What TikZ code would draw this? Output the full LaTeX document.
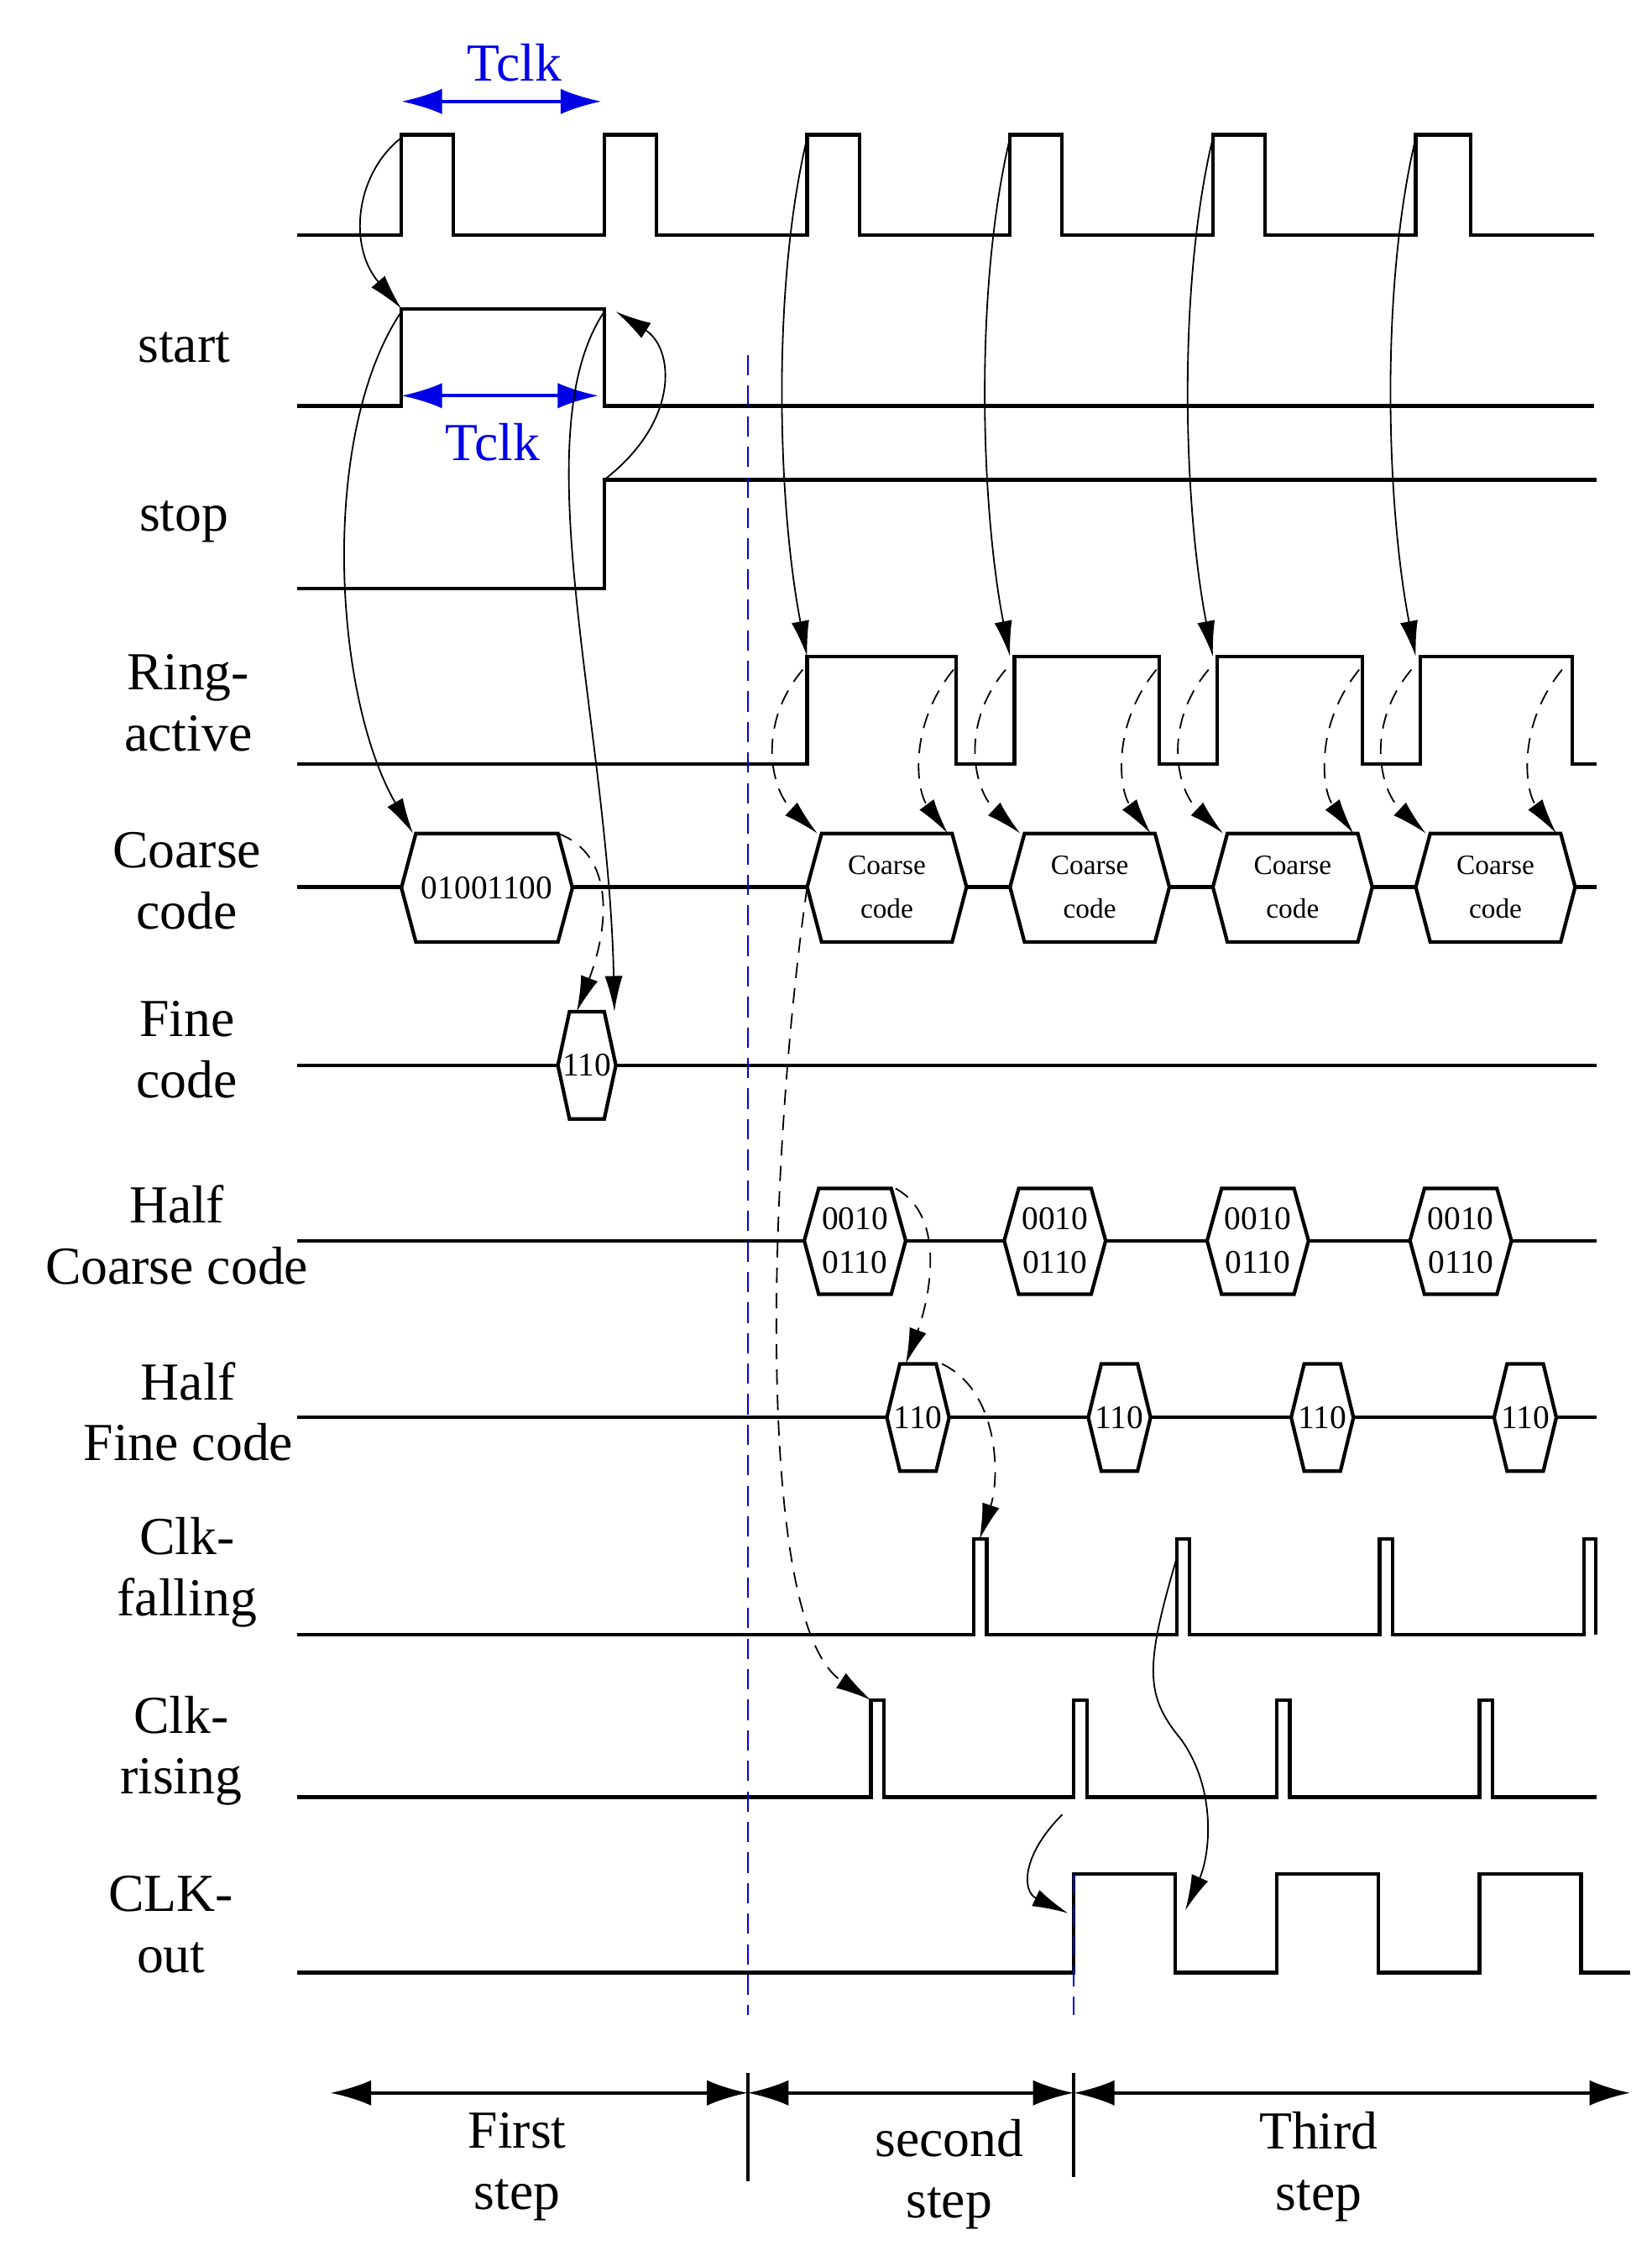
\documentclass[tikz,border=0pt]{standalone}
\usepackage{fontspec}
\setmainfont{Liberation Serif}
\usetikzlibrary{arrows.meta}
\definecolor{tblue}{RGB}{0,0,230}
\newcommand\myhex[6]{% x1 x2 ytop ybot inset text
  \draw[sig,fill=white] (#1,{(#3+#4)/2}) -- (#1+#5,#3) -- (#2-#5,#3) -- (#2,{(#3+#4)/2}) -- (#2-#5,#4) -- (#1+#5,#4) -- cycle;
  \node[hx] at ({(#1+#2)/2},{(#3+#4)/2}) {#6};}
\begin{document}
\begin{tikzpicture}[x=0.02cm,y=-0.02cm,
  sig/.style={line width=1.4pt},
  con/.style={line width=0.6pt,-{Latex[length=14pt,width=7pt]}},
  dcon/.style={con,dash pattern=on 6pt off 4pt},
  lab/.style={font=\fontsize{21}{24}\selectfont,align=center},
  hx/.style={font=\fontsize{13}{15}\selectfont,align=center,inner sep=0pt},
  hxs/.style={font=\fontsize{11}{15}\selectfont,align=center,inner sep=0pt},
  big/.style={line width=1.2pt,{Latex[length=16pt,width=10pt]}-{Latex[length=16pt,width=10pt]}},
  bl/.style={line width=1.2pt,tblue,{Latex[length=16pt,width=10pt]}-{Latex[length=16pt,width=10pt]}}]
\useasboundingbox (0,0) rectangle (1140,1560);
% clock
\draw[sig] (205,162) -- (277,162) -- (277,93) -- (313,93) -- (313,162) -- (417,162) -- (417,93) -- (453,93) -- (453,162)
 -- (557,162) -- (557,93) -- (593,93) -- (593,162) -- (697,162) -- (697,93) -- (733,93) -- (733,162)
 -- (837,162) -- (837,93) -- (873,93) -- (873,162) -- (977,162) -- (977,93) -- (1015,93) -- (1015,162) -- (1100,162);
\draw[bl] (277,70) -- (415,70);
\node[lab,tblue] at (355,43) {Tclk};
% start
\node[lab] at (127,240) {start};
\draw[sig] (205,280) -- (277,280) -- (277,213) -- (417,213) -- (417,280) -- (1100,280);
\draw[bl] (277,273) -- (413,273);
\node[lab,tblue] at (340,305) {Tclk};
% stop
\node[lab] at (127,360) {stop};
\draw[sig] (205,406) -- (417,406) -- (417,331) -- (1102,331);
% ring
\node[lab] at (130,485) {Ring-\\active};
\draw[sig] (205,527) -- (557,527) -- (557,453) -- (660,453) -- (660,527) -- (700,527) -- (700,453) -- (800,453) -- (800,527)
 -- (840,527) -- (840,453) -- (940,453) -- (940,527) -- (980,527) -- (980,453) -- (1085,453) -- (1085,527) -- (1102,527);
% coarse
\node[lab] at (129,608) {Coarse\\code};
\draw[sig] (205,612) -- (1102,612);
\myhex{277}{395}{575}{650}{10}{01001100}
\foreach \a in {557,697,837,977}{
  \draw[sig,fill=white] (\a,612) -- (\a+10,575) -- (\a+100,575) -- (\a+110,612) -- (\a+100,650) -- (\a+10,650) -- cycle;
  \node[hxs] at (\a+55,612) {Coarse\\[2pt]code};}
% fine
\node[lab] at (129,724) {Fine\\code};
\draw[sig] (205,735) -- (1102,735);
\myhex{385}{425}{698}{772}{8}{110}
% half coarse
\node[lab] at (122,852) {Half\\Coarse code};
\draw[sig] (205,856) -- (1102,856);
\foreach \a in {555,693,833,973}{
  \draw[sig,fill=white] (\a,856) -- (\a+10,820) -- (\a+60,820) -- (\a+70,856) -- (\a+60,893) -- (\a+10,893) -- cycle;
  \node[hx] at (\a+35,856) {0010\\[2pt]0110};}
% half fine
\node[lab] at (130,974) {Half\\Fine code};
\draw[sig] (205,978) -- (1102,978);
\foreach \a in {612,751,891,1031}{
  \draw[sig,fill=white] (\a,978) -- (\a+9,941) -- (\a+34,941) -- (\a+43,978) -- (\a+34,1015) -- (\a+9,1015) -- cycle;
  \node[hx] at (\a+21.5,978) {110};}
% clk falling
\node[lab] at (129,1085) {Clk-\\falling};
\draw[sig] (205,1128) -- (672,1128) -- (672,1062) -- (681,1062) -- (681,1128) -- (812,1128) -- (812,1062) -- (821,1062) -- (821,1128)
 -- (952,1128) -- (952,1062) -- (961,1062) -- (961,1128) -- (1093,1128) -- (1093,1062) -- (1101,1062) -- (1101,1128);
% clk rising
\node[lab] at (125,1208) {Clk-\\rising};
\draw[sig] (205,1240) -- (601,1240) -- (601,1173) -- (610,1173) -- (610,1240) -- (741,1240) -- (741,1173) -- (750,1173) -- (750,1240)
 -- (881,1240) -- (881,1173) -- (890,1173) -- (890,1240) -- (1021,1240) -- (1021,1173) -- (1030,1173) -- (1030,1240) -- (1102,1240);
% clk out
\node[lab] at (118,1328) {CLK-\\out};
\draw[sig] (205,1361) -- (741,1361) -- (741,1293) -- (811,1293) -- (811,1361) -- (881,1361) -- (881,1293) -- (951,1293) -- (951,1361)
 -- (1021,1361) -- (1021,1293) -- (1091,1293) -- (1091,1361) -- (1125,1361);
% dashed verticals
\draw[tblue,line width=0.6pt,dash pattern=on 8pt off 4pt] (516,245) -- (516,1390);
\draw[tblue,line width=0.6pt,dash pattern=on 8pt off 4pt] (741,1293) -- (741,1390);
% steps
\draw[big] (228,1444) -- (516,1444);
\draw[big] (516,1444) -- (741,1444);
\draw[big] (741,1444) -- (1125,1444);
\draw[line width=1.2pt] (516,1430) -- (516,1505);
\draw[line width=1.2pt] (741,1430) -- (741,1502);
\node[lab] at (357,1495) {First\\step};
\node[lab] at (655,1500) {second\\step};
\node[lab] at (910,1495) {Third\\step};
% connectors
\draw[con] (277,95) .. controls (245,120) and (240,170) .. (277,213);
\draw[con] (277,215) .. controls (220,300) and (230,480) .. (285,575);
\draw[con] (417,331) .. controls (470,290) and (465,240) .. (425,215);
\draw[con] (417,215) .. controls (360,300) and (420,500) .. (424,698);
\draw[dcon] (385,575) .. controls (425,590) and (420,640) .. (398,698);
\foreach \a in {557,697,837,977}{
  \draw[con] (\a,95) .. controls (\a-25,200) and (\a-20,350) .. (\a,453);
  \draw[dcon] (\a-3,462) .. controls (\a-35,500) and (\a-25,545) .. (\a+7,575);
  \draw[dcon] (\a+101,462) .. controls (\a+70,500) and (\a+75,545) .. (\a+97,575);
}
\draw[dcon] (557,612) .. controls (530,800) and (520,1120) .. (601,1173);
\draw[dcon] (618,820) .. controls (655,840) and (640,900) .. (625,941);
\draw[dcon] (650,941) .. controls (690,960) and (690,1020) .. (676,1062);
\draw[con] (733,1252) .. controls (705,1280) and (705,1305) .. (737,1320);
\draw[con] (812,1075) .. controls (790,1150) and (790,1170) .. (815,1200) .. controls (840,1235) and (835,1280) .. (818,1318);
\end{tikzpicture}
\end{document}
